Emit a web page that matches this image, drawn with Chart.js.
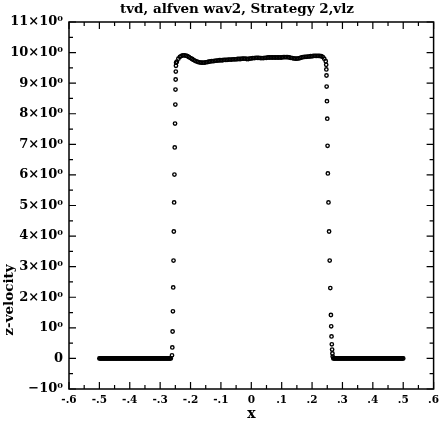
<!DOCTYPE html>
<html>
<head>
<meta charset="utf-8">
<script src="https://cdn.jsdelivr.net/npm/chart.js@4/dist/chart.umd.min.js"></script>
<style>
html,body{margin:0;padding:0;background:#fff;}
#wrap{width:439px;height:425px;}
</style>
</head>
<body>
<div id="wrap"><canvas id="c" width="439" height="425"></canvas></div>
<script>
// ---- data ----
const titleText = "tvd, alfven wav2, Strategy 2,vlz";
const xTitle = "x";
const yTitle = "z-velocity";

// left flat part: x from -0.5 step 0.0025
const leftFlatStart = -0.5, leftFlatStep = 0.0025;
const leftFlatY = [0,0,0,0,0,0,0,0,0,0,0,0,0,0,0,0,0,0,0,0,0,0,0,0,0,0,0,0,0,0,0,0,
  0,0,0,0,0,0,0,0,0,0,0,0,0,0,0,0,0,0,0,0,0,0,0,0,0,0,0,0,0,0,0,0,
  0,0,0,0,0,0,0,0,0,0,0,0,0,0,0,0,0,0,0,0,0,0,0,0,0,0,0,0,0,0,0];

// left jump (explicit points)
const leftJumpX = [-0.261,-0.260,-0.259,-0.258,-0.257,-0.256,-0.255,-0.254,-0.253,-0.252,-0.251,-0.250,-0.2495,-0.249,-0.2485,-0.248,-0.2475];
const leftJumpY = [0.10,0.36,0.88,1.54,2.32,3.20,4.15,5.10,6.01,6.90,7.68,8.30,8.79,9.12,9.38,9.57,9.67];

// plateau: x from -0.245 step 0.005
const plateauStart = -0.245, plateauStep = 0.005;
const plateauY = [9.70,9.80,9.86,9.89,9.91,9.91,9.90,9.88,9.85,9.82,
  9.79,9.76,9.73,9.71,9.69,9.68,9.67,9.67,9.67,9.68,
  9.69,9.70,9.71,9.72,9.72,9.73,9.74,9.74,9.75,9.75,
  9.75,9.76,9.76,9.76,9.77,9.77,9.77,9.78,9.78,9.78,
  9.79,9.79,9.79,9.80,9.80,9.80,9.79,9.79,9.80,9.81,
  9.82,9.82,9.83,9.83,9.83,9.82,9.82,9.82,9.83,9.83,
  9.84,9.84,9.84,9.84,9.84,9.84,9.84,9.84,9.84,9.84,
  9.85,9.85,9.85,9.85,9.84,9.83,9.82,9.81,9.80,9.80,
  9.81,9.82,9.84,9.85,9.86,9.86,9.87,9.87,9.88,9.88,
  9.89,9.89,9.89,9.89,9.89,9.88,9.86,9.80,9.72];

// right drop (explicit points)
const rightJumpX = [0.2465,0.247,0.2475,0.248,0.249,0.250,0.251,0.252,0.254,0.256,0.258,0.260,0.262,0.263,0.264,0.265,0.266,0.267,0.268];
const rightJumpY = [9.60,9.45,9.25,8.89,8.41,7.84,6.95,6.05,5.10,4.15,3.20,2.30,1.42,1.05,0.72,0.46,0.29,0.16,0.06];

// right flat part: x from 0.27 step 0.0025
const rightFlatStart = 0.27, rightFlatStep = 0.0025;
const rightFlatY = [0,0,0,0,0,0,0,0,0,0,0,0,0,0,0,0,0,0,0,0,0,0,0,0,0,0,0,0,0,0,0,
  0,0,0,0,0,0,0,0,0,0,0,0,0,0,0,0,0,0,0,0,0,0,0,0,0,0,0,0,0,0,0,
  0,0,0,0,0,0,0,0,0,0,0,0,0,0,0,0,0,0,0,0,0,0,0,0,0,0,0,0,0,0,0];

// axis ticks
const xMin = -0.6, xMax = 0.6, xStep = 0.1;
const yMin = -1, yMax = 11, yStep = 1;
const yTickLabels = {"-1":"\u221210\u2070","0":"0","1":"10\u2070","2":"2\u00d710\u2070","3":"3\u00d710\u2070","4":"4\u00d710\u2070","5":"5\u00d710\u2070","6":"6\u00d710\u2070","7":"7\u00d710\u2070","8":"8\u00d710\u2070","9":"9\u00d710\u2070","10":"10\u00d710\u2070","11":"11\u00d710\u2070"};

// ---- build points ----
const pts = [];
leftFlatY.forEach((v,i)=>pts.push({x:leftFlatStart+i*leftFlatStep,y:v}));
leftJumpX.forEach((x,i)=>pts.push({x:x,y:leftJumpY[i]}));
plateauY.forEach((v,i)=>pts.push({x:plateauStart+i*plateauStep,y:v}));
rightJumpX.forEach((x,i)=>pts.push({x:x,y:rightJumpY[i]}));
rightFlatY.forEach((v,i)=>pts.push({x:rightFlatStart+i*rightFlatStep,y:v}));

const FONT = "'DejaVu Serif', 'Liberation Serif', serif";

function fmtX(v){
  const r = Math.round(v*10)/10;
  if (Math.abs(r) < 1e-9) return "0";
  let s = Math.abs(r).toFixed(1).replace(/^0/, "");
  return (r<0 ? "-" : "") + s;
}

const framePlugin = {
  id: 'frame',
  afterDraw(chart){
    const ctx = chart.ctx, a = chart.chartArea;
    const xs = chart.scales.x, ys = chart.scales.y;
    ctx.save();
    ctx.strokeStyle = '#000';
    ctx.lineWidth = 1.5;
    ctx.strokeRect(a.left, a.top, a.right-a.left, a.bottom-a.top);
    ctx.lineWidth = 1.2;
    ctx.beginPath();
    for (let k = 0; k <= 24; k++){
      const v = xMin + k*0.05;
      const px = xs.getPixelForValue(v);
      const len = (k % 2 === 0) ? 7 : 4;
      ctx.moveTo(px, a.bottom); ctx.lineTo(px, a.bottom - len);
      ctx.moveTo(px, a.top); ctx.lineTo(px, a.top + len);
    }
    for (let k = 0; k <= 24; k++){
      const v = yMin + k*0.5;
      const py = ys.getPixelForValue(v);
      const len = (k % 2 === 0) ? 7 : 4;
      ctx.moveTo(a.left, py); ctx.lineTo(a.left + len, py);
      ctx.moveTo(a.right, py); ctx.lineTo(a.right - len, py);
    }
    ctx.stroke();
    ctx.fillStyle = '#000';
    ctx.font = "bold 13.5px " + FONT;
    ctx.textAlign = 'center';
    ctx.textBaseline = 'middle';
    ctx.fillText(titleText, 237, 9);
    ctx.font = "bold 14px " + FONT;
    ctx.fillText(xTitle, (a.left+a.right)/2, 414);
    ctx.translate(9, 300);
    ctx.rotate(-Math.PI/2);
    ctx.font = "bold 13.5px " + FONT;
    ctx.fillText(yTitle, 0, 0);
    ctx.restore();
  }
};

new Chart(document.getElementById('c'), {
  type: 'scatter',
  data: {
    datasets: [{
      data: pts,
      pointStyle: 'circle',
      pointRadius: 1.7,
      pointBorderWidth: 1.4,
      pointBorderColor: '#000',
      pointBackgroundColor: 'rgba(0,0,0,0)',
      showLine: false
    }]
  },
  options: {
    responsive: false,
    animation: false,
    events: [],
    layout: { padding: { top: 22, right: 5, left: 0, bottom: 0 } },
    plugins: { legend: { display: false }, title: { display: false }, tooltip: { enabled: false } },
    scales: {
      x: {
        type: 'linear', min: xMin, max: xMax,
        grid: { display: false, drawTicks: false },
        border: { display: false },
        ticks: { stepSize: xStep, padding: 5, color: '#000', maxRotation: 0, autoSkip: false,
          font: { family: FONT, size: 10.5, weight: 'bold' },
          callback: (v) => fmtX(v) },
        afterFit(s){ s.height = 36; s.paddingLeft = 0; s.paddingRight = 0; }
      },
      y: {
        type: 'linear', min: yMin, max: yMax,
        grid: { display: false, drawTicks: false },
        border: { display: false },
        ticks: { stepSize: yStep, padding: 6, color: '#000', autoSkip: false,
          font: { family: FONT, size: 13, weight: 'bold' },
          callback: (v) => yTickLabels[String(Math.round(v))] },
        afterFit(s){ s.width = 69; s.paddingTop = 0; s.paddingBottom = 0; }
      }
    }
  },
  plugins: [framePlugin]
});
</script>
</body>
</html>
